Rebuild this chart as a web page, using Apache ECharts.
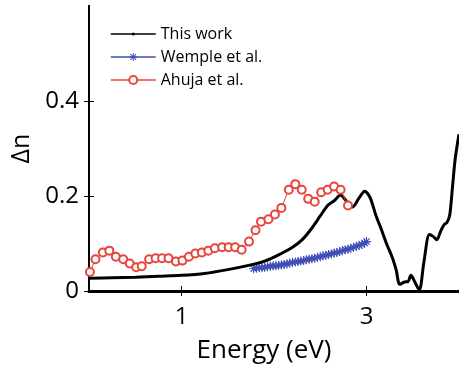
<!DOCTYPE html>
<html><head><meta charset="utf-8">
<script src="https://cdn.jsdelivr.net/npm/echarts@6/dist/echarts.min.js"></script>
<style>html,body{margin:0;padding:0;background:#fff}#c{width:459px;height:369px}</style>
</head><body><div id="c"></div>
<script>
// This work (energy eV, delta n)
var workE = [0,0.25,0.5,0.75,1.0,1.25,1.5,1.75,1.9,2.05,2.2,2.3,2.4,2.5,2.58,2.65,2.72,2.78,2.85,2.92,2.98,3.04,3.1,3.16,3.22,3.28,3.32,3.36,3.41,3.45,3.48,3.52,3.57,3.62,3.68,3.72,3.76,3.8,3.84,3.87,3.9,3.93,3.96,4.0];
var workN = [0.027,0.028,0.029,0.031,0.033,0.037,0.045,0.055,0.063,0.076,0.092,0.107,0.13,0.158,0.18,0.19,0.202,0.19,0.177,0.196,0.21,0.196,0.16,0.13,0.098,0.07,0.045,0.014,0.019,0.02,0.033,0.02,0.002,0.06,0.119,0.115,0.108,0.125,0.14,0.144,0.16,0.22,0.28,0.33];
// Wemple et al.
var wempleE = [1.78,1.81,1.84,1.87,1.90,1.93,1.96,1.99,2.02,2.05,2.08,2.11,2.14,2.17,2.20,2.23,2.26,2.29,2.32,2.35,2.38,2.41,2.44,2.47,2.50,2.53,2.56,2.59,2.62,2.65,2.68,2.71,2.74,2.77,2.80,2.83,2.86,2.89,2.92,2.95,2.98,3.0];
var wempleN = [0.047,0.048,0.049,0.049,0.050,0.051,0.052,0.053,0.053,0.054,0.055,0.056,0.057,0.059,0.060,0.061,0.062,0.063,0.064,0.066,0.067,0.068,0.069,0.071,0.072,0.074,0.075,0.077,0.078,0.080,0.081,0.083,0.085,0.087,0.088,0.090,0.092,0.094,0.096,0.098,0.101,0.104];
// Ahuja et al.
var ahujaE = [0.01,0.07,0.15,0.22,0.29,0.37,0.44,0.51,0.57,0.65,0.72,0.79,0.86,0.94,1.01,1.08,1.15,1.22,1.29,1.36,1.44,1.51,1.58,1.65,1.73,1.80,1.86,1.94,2.01,2.08,2.16,2.23,2.30,2.37,2.44,2.51,2.58,2.65,2.72,2.80];
var ahujaN = [0.040,0.067,0.081,0.085,0.072,0.067,0.058,0.050,0.052,0.067,0.069,0.069,0.069,0.062,0.064,0.072,0.079,0.081,0.085,0.090,0.092,0.092,0.092,0.087,0.104,0.128,0.146,0.151,0.161,0.175,0.213,0.225,0.213,0.194,0.188,0.208,0.213,0.220,0.213,0.180];
var xTicks = [1,3];
var yTicks = [0,0.2,0.4];

function pairs(a,b){return a.map(function(v,i){return [v,b[i]];});}
var FONT = '"Open Sans", sans-serif';
var star = 'path://M-0.12,-1L0.12,-1L0.12,1L-0.12,1Z M-1,-0.12L1,-0.12L1,0.12L-1,0.12Z M-0.79,-0.62L-0.62,-0.79L0.79,0.62L0.62,0.79Z M0.62,-0.79L0.79,-0.62L-0.62,0.79L-0.79,0.62Z';
var dot = 'path://M-4,-4L-3.98,-4L-3.98,-3.98Z M4,4L3.98,4L3.98,3.98Z M-1.6,0A1.6,1.6 0 1,0 1.6,0A1.6,1.6 0 1,0 -1.6,0Z';

var chart = echarts.init(document.getElementById('c'));
chart.setOption({
  animation:false,
  backgroundColor:'#fff',
  grid:{left:89,right:-3,top:6,bottom:75},
  legend:{
    left:110, top:26, padding:0, orient:'vertical', itemWidth:45, itemHeight:10, itemGap:7,
    lineStyle:{width:1.5},
    textStyle:{fontFamily:FONT,fontSize:16,color:'#000'},
    data:['This work','Wemple et al.','Ahuja et al.']
  },
  xAxis:[{
    type:'value', min:0, max:4, position:'bottom',
    name:'Energy (eV)', nameLocation:'middle', nameGap:47,
    nameTextStyle:{fontFamily:FONT,fontSize:26,color:'#000',padding:[0,20,0,0]},
    axisLine:{lineStyle:{color:'#000',width:3}},
    axisTick:{inside:true,length:5,lineStyle:{color:'#000',width:1},customValues:xTicks},
    axisLabel:{fontFamily:FONT,fontSize:24,color:'#000',margin:14,customValues:xTicks},
    splitLine:{show:false}
  },{
    type:'value', min:0, max:4, position:'top',
    axisLine:{lineStyle:{color:'#000',width:2}},
    axisTick:{inside:true,length:5,lineStyle:{color:'#000',width:1},customValues:xTicks},
    axisLabel:{show:false}, splitLine:{show:false}
  }],
  yAxis:[{
    type:'value', min:0, max:0.6, interval:0.2, position:'left',
    name:'Δn', nameLocation:'middle', nameGap:50,
    nameTextStyle:{fontFamily:FONT,fontSize:25,color:'#000'},
    axisLine:{show:true,lineStyle:{color:'#000',width:2}},
    axisTick:{show:true,inside:true,length:5,lineStyle:{color:'#000',width:1},customValues:yTicks},
    axisLabel:{fontFamily:FONT,fontSize:24,color:'#000',margin:10,customValues:yTicks,padding:[6,0,0,0],
      formatter:function(v){return v===0?'0':v.toFixed(1);}},
    splitLine:{show:false}
  },{
    type:'value', min:0, max:0.6, interval:0.2, position:'right',
    axisLine:{show:true,lineStyle:{color:'#000',width:2}},
    axisTick:{show:true,inside:true,length:5,lineStyle:{color:'#000',width:1},customValues:yTicks},
    axisLabel:{show:false}, splitLine:{show:false}
  }],
  series:[{
    name:'This work', type:'line', data:pairs(workE,workN), smooth:0.3,
    symbol:dot, symbolSize:8, showSymbol:false,
    lineStyle:{color:'#000',width:3}, itemStyle:{color:'#000'}, z:3
  },{
    name:'Wemple et al.', type:'line', data:pairs(wempleE,wempleN),
    symbol:star, symbolSize:9, showSymbol:true,
    lineStyle:{color:'#3f4fb5',width:1}, itemStyle:{color:'#3f4fb5'}, z:2
  },{
    name:'Ahuja et al.', type:'line', data:pairs(ahujaE,ahujaN),
    symbol:'emptyCircle', symbolSize:8, showSymbol:true,
    lineStyle:{color:'#e8453c',width:1},
    itemStyle:{color:'#e8453c',borderWidth:0.8}, z:4
  }]
});
</script></body></html>
